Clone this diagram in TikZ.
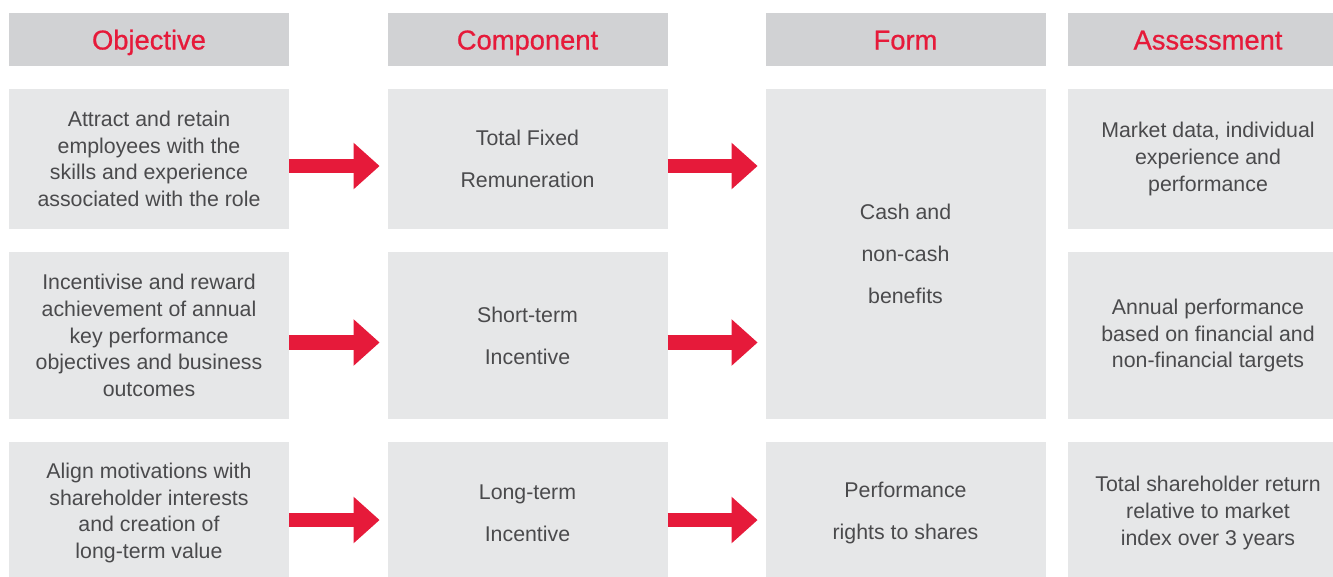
\documentclass[tikz,border=0pt]{standalone}
\usepackage{fontspec}
\setmainfont{Liberation Sans}
\newfontfamily\headfont[FakeBold=0.7]{Liberation Sans}
\usepackage{tikz}
\usetikzlibrary{arrows.meta, positioning}
\definecolor{headgray}{HTML}{D1D2D4}
\definecolor{cellgray}{HTML}{E6E7E8}
\definecolor{remred}{HTML}{E61A3A}
\definecolor{textgray}{HTML}{4A4A4C}

\begin{document}
\begin{tikzpicture}[
    x=0.75pt, y=-0.75pt,
    head/.style = {rectangle, fill=headgray, inner sep=0pt, outer sep=0pt, minimum width=210pt, minimum height=39.75pt, text height=15pt, text depth=0pt, text=remred, font=\headfont\fontsize{20.5}{24}\selectfont},
    cell/.style = {rectangle, fill=cellgray, inner sep=0pt, outer sep=0pt, minimum width=210pt, align=center, text=textgray, font=\fontsize{16}{20}\selectfont},
    wide/.style = {cell, font=\fontsize{16}{31.5}\selectfont},
    arrow/.style = {remred, line width=11pt, shorten >=6pt, -{Triangle[length=19.5pt, width=35pt, line width=0pt]}}
]
    \useasboundingbox (0,0) rectangle (1333,576);
    \clip (0,0) rectangle (1333,576);

    % Column headings
    \node[head] (hobj) at (149,39.5) {Objective};
    \node[head] (hcomp) at (527.5,39.5) {Component};
    \node[head] (hform) at (905.5,39.5) {Form};
    \node[head] (hass) at (1208,39.5) {Assessment};

    % Objective column
    \node[cell, minimum height=105pt] (obj1) at (149,159) {Attract and retain\\employees with the\\skills and experience\\associated with the role};
    \node[cell, minimum height=125.25pt] (obj2) at (149,335.5) {Incentivise and reward\\achievement of annual\\key performance\\objectives and business\\outcomes};
    \node[cell, minimum height=106.5pt] (obj3) at (149,513) {Align motivations with\\shareholder interests\\and creation of\\long-term value};

    % Component column
    \node[wide, minimum height=105pt] (comp1) at (527.5,159) {Total Fixed\\Remuneration};
    \node[wide, minimum height=125.25pt] (comp2) at (527.5,335.5) {Short-term\\Incentive};
    \node[wide, minimum height=106.5pt] (comp3) at (527.5,513) {Long-term\\Incentive};

    % Form column
    \node[wide, minimum height=247.5pt] (form1) at (905.5,254) {Cash and\\non-cash\\benefits};
    \node[wide, minimum height=106.5pt] (form2) at (905.5,513) {Performance\\rights to shares};

    % Assessment column
    \node[cell, minimum height=105pt] (ass1) at (1208,159) {Market data, individual\\experience and\\performance};
    \node[cell, minimum height=125.25pt] (ass2) at (1208,335.5) {Annual performance\\based on financial and\\non-financial targets};
    \node[cell, minimum height=106.5pt] (ass3) at (1208,513) {Total shareholder return\\relative to market\\index over 3 years};

    % Arrows
    \draw[arrow] ([yshift=-5.25pt]obj1.east) -- ([yshift=-5.25pt]comp1.west);
    \draw[arrow] ([yshift=-5.25pt]obj2.east) -- ([yshift=-5.25pt]comp2.west);
    \draw[arrow] ([yshift=-5.25pt]obj3.east) -- ([yshift=-5.25pt]comp3.west);
    \draw[arrow] ([yshift=-5.25pt]comp1.east) -- ([yshift=-5.25pt]comp1.east -| form1.west);
    \draw[arrow] ([yshift=-5.25pt]comp2.east) -- ([yshift=-5.25pt]comp2.east -| form1.west);
    \draw[arrow] ([yshift=-5.25pt]comp3.east) -- ([yshift=-5.25pt]form2.west);
\end{tikzpicture}
\end{document}
